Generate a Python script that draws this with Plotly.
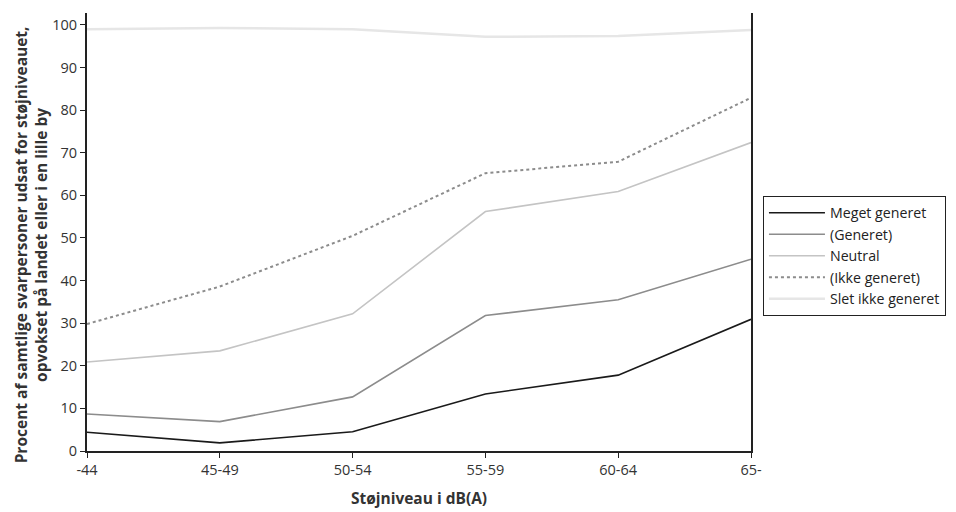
import plotly.graph_objects as go

# Noise level bands (dB(A))
categories = ["-44", "45-49", "50-54", "55-59", "60-64", "65-"]

# Share of respondents (%) per annoyance level
meget_generet = [4.4, 1.9, 4.5, 13.4, 17.8, 30.9]
generet = [8.7, 6.9, 12.7, 31.8, 35.5, 45.0]
neutral = [20.9, 23.5, 32.2, 56.2, 60.9, 72.4]
ikke_generet = [29.8, 38.6, 50.5, 65.2, 67.9, 82.9]
slet_ikke_generet = [99.0, 99.3, 99.0, 97.2, 97.4, 98.8]

y_ticks = [0, 10, 20, 30, 40, 50, 60, 70, 80, 90, 100]

series = [
    ("Meget generet", meget_generet, dict(color="#1a1a1a", width=1.6)),
    ("(Generet)", generet, dict(color="#8c8c8c", width=1.6)),
    ("Neutral", neutral, dict(color="#c4c4c4", width=1.6)),
    ("(Ikke generet)", ikke_generet, dict(color="#8c8c8c", width=2, dash="dot")),
    ("Slet ikke generet", slet_ikke_generet, dict(color="#e6e6e6", width=2.5)),
]

fig = go.Figure()
for name, values, line in series:
    fig.add_trace(go.Scatter(x=categories, y=values, mode="lines", name=name, line=line))

font_family = "Open Sans, Noto Sans, sans-serif"

fig.update_layout(
    width=956,
    height=512,
    margin=dict(l=87, r=205, t=13, b=61, autoexpand=False),
    plot_bgcolor="white",
    paper_bgcolor="white",
    font=dict(family=font_family, size=14, color="#333333"),
    showlegend=True,
    legend=dict(
        x=1.018,
        y=0.582,
        xanchor="left",
        yanchor="top",
        bordercolor="#222222",
        borderwidth=1,
        font=dict(size=14.2, color="#222222"),
        itemwidth=56,
        tracegroupgap=0,
    ),
    xaxis=dict(
        type="category",
        range=[0, 5],
        automargin=False,
        showgrid=False,
        showline=True,
        linecolor="#222222",
        linewidth=2,
        ticks="outside",
        ticklen=5,
        tickcolor="#222222",
        tickfont=dict(size=14.5, color="#333333"),
        title=dict(
            text="<b>Støjniveau i dB(A)</b>",
            font=dict(size=15.5, color="#333333"),
            standoff=15,
        ),
        zeroline=False,
    ),
    yaxis=dict(
        range=[0, 102.8],
        tickvals=y_ticks,
        automargin=False,
        showgrid=False,
        showline=True,
        mirror=True,
        linecolor="#222222",
        linewidth=2,
        ticks="outside",
        ticklen=5,
        tickcolor="#222222",
        tickfont=dict(size=14.5, color="#333333"),
        zeroline=False,
    ),
    annotations=[
        dict(
            text="<b>Procent af samtlige svarpersoner udsat for støjniveauet,<br>opvokset på landet eller i en lille by</b>",
            xref="paper",
            yref="paper",
            x=-0.084,
            y=0.47,
            xanchor="center",
            yanchor="middle",
            textangle=-90,
            showarrow=False,
            font=dict(size=15.5, color="#333333"),
        )
    ],
)

fig.write_html("out.html")
